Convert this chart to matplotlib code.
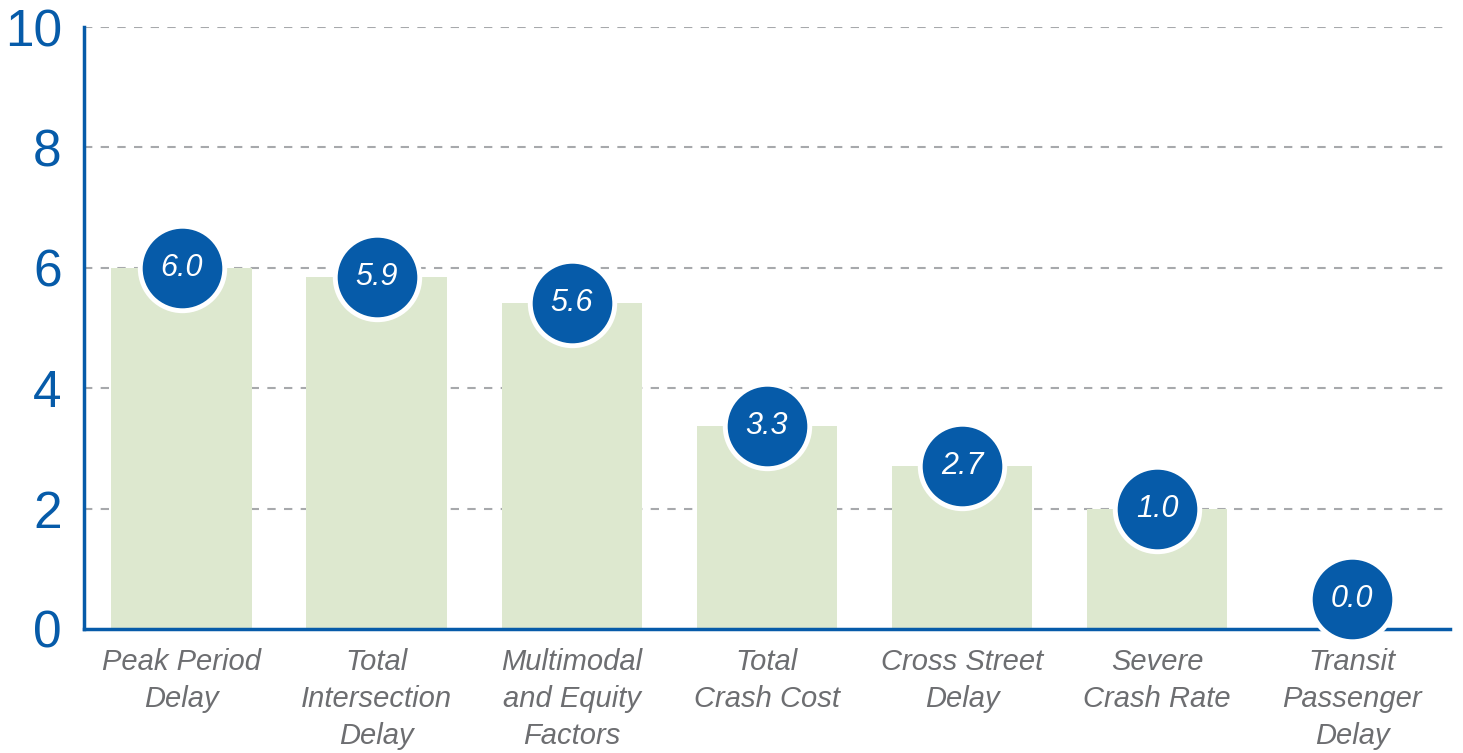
import matplotlib
matplotlib.use("Agg")
import matplotlib.pyplot as plt
import numpy as np

categories = ["Peak Period\nDelay", "Total\nIntersection\nDelay", "Multimodal\nand Equity\nFactors",
              "Total\nCrash Cost", "Cross Street\nDelay", "Severe\nCrash Rate", "Transit\nPassenger\nDelay"]
bar_heights = [6.0, 5.85, 5.42, 3.37, 2.71, 1.99, 0.0]
label_values = [6.0, 5.9, 5.6, 3.3, 2.7, 1.0, 0.0]
y_ticks = [0, 2, 4, 6, 8, 10]

BLUE = "#065ba9"
BAR = "#dde8cf"
GREY = "#6d6e71"
GRID = "#a7a9ac"

plt.rcParams['font.family'] = ['Liberation Sans', 'DejaVu Sans']

fig = plt.figure(figsize=(14.63, 7.53), dpi=100)
ax = fig.add_axes([0.0574, 0.1647, 0.9336, 0.7993])

x = np.arange(len(categories))
ax.bar(x, bar_heights, width=0.72, color=BAR, zorder=2)

circle_y = [max(h, 0.5) for h in bar_heights]
ax.scatter(x, circle_y, s=3700, color=BLUE, edgecolors="white", linewidths=3.5, zorder=4, clip_on=False)
for xi, yi, v in zip(x, circle_y, label_values):
    ax.text(xi, yi, f"{v:.1f}", color="white", fontsize=22, fontstyle="italic",
            ha="center", va="center", zorder=5)

ax.set_xlim(-0.5, 6.5)
ax.set_ylim(0, 10)
ax.set_yticks(y_ticks)
ax.set_yticklabels([str(t) for t in y_ticks], color=BLUE, fontsize=37)
ax.set_xticks(x)
ax.set_xticklabels(categories, color=GREY, fontsize=21, fontstyle="italic", linespacing=1.4)
ax.tick_params(axis="both", length=0)
ax.tick_params(axis="y", pad=16)
ax.tick_params(axis="x", pad=14)

for t in y_ticks[1:]:
    ax.axhline(t, color=GRID, linestyle=(0, (4, 4)), linewidth=1.5, zorder=1)

for s in ["top", "right"]:
    ax.spines[s].set_visible(False)
ax.spines["left"].set_color(BLUE)
ax.spines["left"].set_linewidth(2.5)
ax.spines["bottom"].set_color(BLUE)
ax.spines["bottom"].set_linewidth(2.5)
ax.spines["bottom"].set_zorder(3)

fig.savefig("out.png", dpi=100)
